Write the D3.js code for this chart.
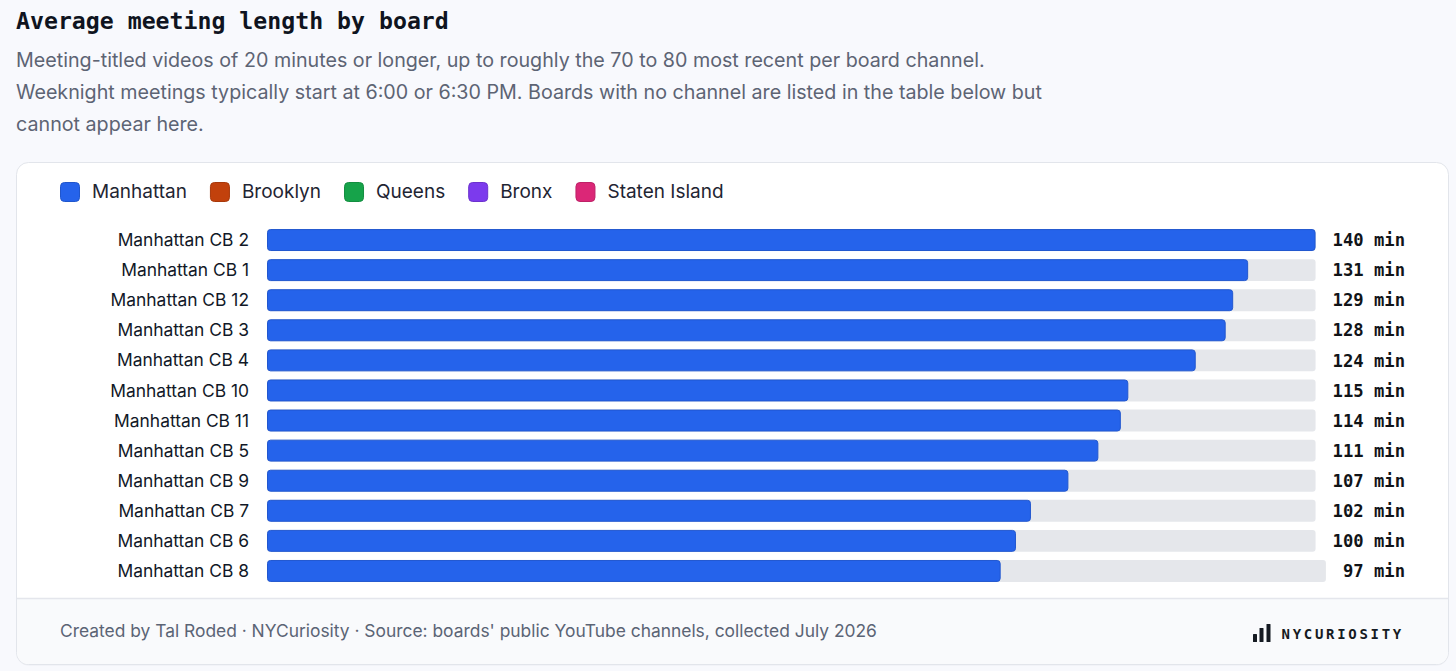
<!DOCTYPE html>
<html>
<head>
<meta charset="utf-8">
<script src="https://cdn.jsdelivr.net/npm/d3@7"></script>
<style>
  html, body { margin: 0; padding: 0; background: #f8f9fd; }
  svg { display: block; }
</style>
</head>
<body>
<svg id="chart" width="1456" height="671"></svg>
<script>
// data
var boards = ["Manhattan CB 2", "Manhattan CB 1", "Manhattan CB 12", "Manhattan CB 3",
  "Manhattan CB 4", "Manhattan CB 10", "Manhattan CB 11", "Manhattan CB 5",
  "Manhattan CB 9", "Manhattan CB 7", "Manhattan CB 6", "Manhattan CB 8"]
var minutes = [140, 131, 129, 128, 124, 115, 114, 111, 107, 102, 100, 97]
var boroughs = ["Manhattan", "Brooklyn", "Queens", "Bronx", "Staten Island"]
var boroughColors = ["#2563eb", "#c2410c", "#16a34a", "#7c3aed", "#db2777"]
var boardBorough = boards.map(function() { return "Manhattan" })

var subtitle = [
  "Meeting-titled videos of 20 minutes or longer, up to roughly the 70 to 80 most recent per board channel.",
  "Weeknight meetings typically start at 6:00 or 6:30 PM. Boards with no channel are listed in the table below but",
  "cannot appear here."
]
var footerText = "Created by Tal Roded \u00b7 NYCuriosity \u00b7 Source: boards' public YouTube channels, collected July 2026"

var mono = "'DejaVu Sans Mono', 'Liberation Mono', monospace",
    sans = "Inter, 'Noto Sans', sans-serif"

var svg = d3.select("#chart")

// heading
svg.append("text")
  .attr("x", 16).attr("y", 29)
  .style("font-family", mono).style("font-weight", "700").style("font-size", "23.2px")
  .attr("fill", "#0f1420")
  .text("Average meeting length by board")

svg.append("g").selectAll("text").data(subtitle).enter().append("text")
  .attr("x", 16).attr("y", function(d, i) { return 67 + i * 32 })
  .style("font-family", sans).style("font-size", "19.7px")
  .attr("fill", "#5d6474")
  .text(function(d) { return d })

// card
var card = { x: 16.5, y: 162.5, w: 1432, h: 502, r: 12, footY: 598.5 }
svg.append("rect")
  .attr("x", card.x).attr("y", card.y + 1).attr("width", card.w).attr("height", card.h)
  .attr("rx", card.r).attr("fill", "#eceef3")
svg.append("rect")
  .attr("x", card.x).attr("y", card.y).attr("width", card.w).attr("height", card.h)
  .attr("rx", card.r).attr("fill", "#ffffff").attr("stroke", "#e2e5eb")

var fb = card.y + card.h, r = card.r
svg.append("path")
  .attr("d", "M" + (card.x + 0.5) + "," + card.footY +
    "H" + (card.x + card.w - 0.5) +
    "V" + (fb - r) +
    "A" + (r - 0.5) + "," + (r - 0.5) + " 0 0 1 " + (card.x + card.w - r) + "," + (fb - 0.5) +
    "H" + (card.x + r) +
    "A" + (r - 0.5) + "," + (r - 0.5) + " 0 0 1 " + (card.x + 0.5) + "," + (fb - r) + "Z")
  .attr("fill", "#f9fafc")
svg.append("line")
  .attr("x1", card.x + 0.5).attr("x2", card.x + card.w - 0.5)
  .attr("y1", card.footY).attr("y2", card.footY)
  .attr("stroke", "#e4e6ec").attr("stroke-width", 1.5)

// legend
var legend = svg.append("g").attr("transform", "translate(60,182)")
var lx = 0
boroughs.forEach(function(b, i) {
  var g = legend.append("g").attr("transform", "translate(" + lx + ",0)")
  g.append("rect")
    .attr("x", 0.5).attr("y", 0.5).attr("width", 19).attr("height", 19).attr("rx", 4)
    .attr("fill", boroughColors[i])
    .attr("stroke", d3.color(boroughColors[i]).darker(0.4))
  var t = g.append("text")
    .attr("x", 32).attr("y", 16)
    .style("font-family", sans).style("font-size", "19px")
    .attr("fill", "#1f2533")
    .text(b)
  lx += 32 + t.node().getComputedTextLength() + 23
})

// bars
var color = d3.scaleOrdinal().domain(boroughs).range(boroughColors)
var y = d3.scaleBand().domain(boards).range([225, 586]).paddingInner(0.27).paddingOuter(0.135)
var trackX = 267, valueRight = 1405, gap = 17

var rows = svg.append("g").selectAll("g").data(boards).enter().append("g")

rows.append("text")
  .attr("x", 249).attr("y", function(d) { return y(d) + y.bandwidth() / 2 })
  .attr("dy", "0.35em").attr("text-anchor", "end")
  .style("font-family", sans).style("font-size", "17.4px")
  .attr("fill", "#111827")
  .text(function(d) { return d })

rows.each(function(d, i) {
  var row = d3.select(this)
  var label = row.append("text")
    .attr("x", valueRight).attr("y", y(d) + y.bandwidth() / 2)
    .attr("dy", "0.36em").attr("text-anchor", "end")
    .style("font-family", mono).style("font-weight", "700").style("font-size", "17.2px")
    .attr("fill", "#111418")
    .text(minutes[i] + " min")
  var trackEnd = valueRight - label.node().getComputedTextLength() - gap
  var x = d3.scaleLinear().domain([0, d3.max(minutes)]).range([trackX, trackEnd])

  row.append("rect")
    .attr("x", trackX).attr("y", y(d))
    .attr("width", trackEnd - trackX).attr("height", y.bandwidth())
    .attr("rx", 3).attr("fill", "#e5e7eb")
  row.append("rect")
    .attr("x", trackX + 0.5).attr("y", y(d) + 0.5)
    .attr("width", x(minutes[i]) - trackX - 1).attr("height", y.bandwidth() - 1)
    .attr("rx", 3)
    .attr("fill", color(boardBorough[i]))
    .attr("stroke", d3.color(color(boardBorough[i])).darker(0.35))
    .attr("stroke-width", 1)
})

// footer
svg.append("text")
  .attr("x", 60).attr("y", 637)
  .style("font-family", sans).style("font-size", "17.4px")
  .attr("fill", "#5b6475")
  .text(footerText)

var logo = svg.append("g").attr("transform", "translate(1253,642)")
logo.selectAll("rect").data([8, 14, 18]).enter().append("rect")
  .attr("x", function(d, i) { return [0, 6.5, 13.5][i] }).attr("y", function(d) { return -d })
  .attr("width", 4).attr("height", function(d) { return d })
  .attr("rx", 0.6).attr("fill", "#151a22")
svg.append("text")
  .attr("x", 1404).attr("y", 639).attr("text-anchor", "end")
  .style("font-family", mono).style("font-weight", "700").style("font-size", "14px")
  .style("letter-spacing", "2.7px")
  .attr("fill", "#151a22")
  .text("NYCURIOSITY")
</script>
</body>
</html>
